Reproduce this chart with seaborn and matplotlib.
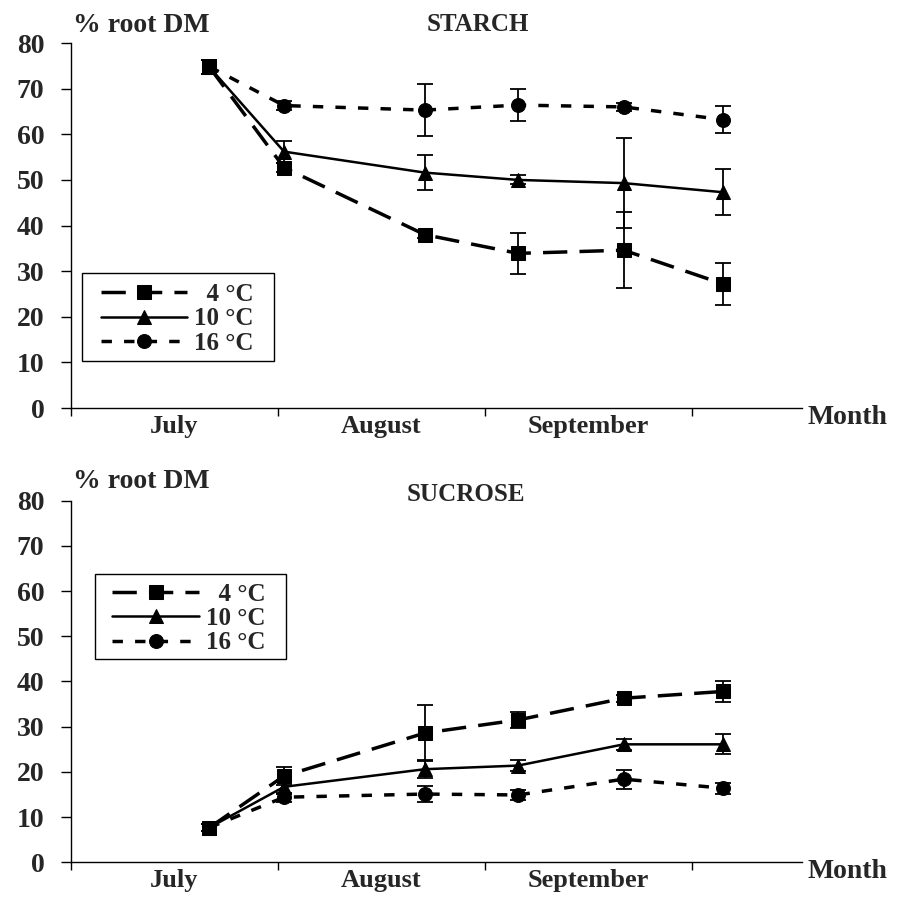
import matplotlib
matplotlib.use("Agg")
import matplotlib.pyplot as plt
from matplotlib.patches import Rectangle
import pandas as pd
import seaborn as sns

# sampling dates, in months after 1 July
months_x = [0.67, 1.03, 1.71, 2.16, 2.67, 3.15]
temps = ["4 °C", "10 °C", "16 °C"]

starch_4 = [74.7, 52.7, 38.0, 33.9, 34.6, 27.2]
starch_4_err = [1.5, 1.0, 0.8, 4.5, 8.3, 4.6]
starch_10 = [74.7, 56.2, 51.6, 50.0, 49.3, 47.3]
starch_10_err = [1.5, 2.4, 3.8, 1.0, 9.8, 5.0]
starch_16 = [74.8, 66.3, 65.3, 66.4, 66.0, 63.2]
starch_16_err = [1.5, 1.0, 5.7, 3.5, 0.8, 2.9]

sucrose_4 = [7.7, 19.1, 28.6, 31.5, 36.3, 37.8]
sucrose_4_err = [0.8, 2.0, 6.2, 1.8, 0.8, 2.3]
sucrose_10 = [7.7, 16.7, 20.6, 21.4, 26.1, 26.1]
sucrose_10_err = [0.8, 1.5, 2.0, 1.3, 1.2, 2.2]
sucrose_16 = [7.7, 14.4, 15.1, 14.9, 18.4, 16.4]
sucrose_16_err = [0.8, 1.0, 1.8, 1.2, 2.1, 1.2]

month_names = ["July", "August", "September"]

STYLES = {
    "4 °C": dict(marker="s", linestyle=(0, (7, 3.5)), linewidth=2.5),
    "10 °C": dict(marker="^", linestyle="-", linewidth=1.8),
    "16 °C": dict(marker="o", linestyle=(0, (3, 3.5)), linewidth=2.5),
}

sns.set_theme(style="white")
plt.rcParams["font.family"] = ["Liberation Serif", "DejaVu Serif"]
plt.rcParams["font.weight"] = "bold"


def draw_panel(ax, series, errors, title, title_pos, root_y, box, legend_anchor):
    handles = []
    for temp, vals, errs in zip(temps, series, errors):
        df = pd.DataFrame({"x": months_x, "y": vals})
        st = STYLES[temp]
        ax.errorbar(months_x, vals, yerr=errs, fmt="none", ecolor="black",
                    elinewidth=1.3, capsize=6, capthick=1.3, zorder=2)
        sns.lineplot(data=df, x="x", y="y", ax=ax, color="black",
                     marker=st["marker"], markersize=10, markeredgecolor="black",
                     linestyle=st["linestyle"], linewidth=st["linewidth"],
                     zorder=3)
        handles.append(ax.lines[-1])

    ax.set_xlim(0, 3.53)
    ax.set_ylim(0, 80)
    ax.set_yticks(range(0, 81, 10))
    ax.set_xticks([0, 1, 2, 3])
    ax.set_xticklabels([])
    ax.set_xticks([0.5, 1.5, 2.5], minor=True)
    ax.set_xticklabels(month_names, minor=True, fontsize=19, fontweight="bold")
    ax.tick_params(axis="x", which="minor", length=0, pad=5)
    ax.tick_params(axis="x", which="major", direction="out", length=6,
                   width=1, color="black", bottom=True)
    ax.tick_params(axis="y", direction="out", length=7, width=1,
                   color="black", left=True, labelsize=20, pad=12)
    for lab in ax.get_yticklabels():
        lab.set_fontweight("bold")
    sns.despine(ax=ax)
    for sp in ["left", "bottom"]:
        ax.spines[sp].set_color("black")
        ax.spines[sp].set_linewidth(1)
    ax.set_xlabel("")
    ax.set_ylabel("")

    ax.text(0.003, root_y, "% root DM", transform=ax.transAxes, fontsize=20,
            fontweight="bold", ha="left", va="baseline")
    ax.text(title_pos[0], title_pos[1], title, transform=ax.transAxes,
            fontsize=18, fontweight="bold", ha="center", va="baseline")
    ax.text(1.008, 0.008, "Month", transform=ax.transAxes, fontsize=20,
            fontweight="bold", ha="left", va="top")

    # legend box drawn separately so the padding matches the original
    ax.add_patch(Rectangle((box[0], box[1]), box[2], box[3],
                           transform=ax.transAxes, facecolor="white",
                           edgecolor="black", linewidth=1, zorder=4))
    leg = ax.legend(handles, ["  4 °C", "10 °C", "16 °C"], loc="upper left",
                    bbox_to_anchor=legend_anchor, borderaxespad=0,
                    frameon=False, handlelength=3.45, handletextpad=0.28,
                    labelspacing=0.05, borderpad=0,
                    prop={"size": 18, "weight": "bold"})
    leg.set_zorder(5)


fig = plt.figure(figsize=(9.07, 9.10), dpi=100)
ax_top = fig.add_axes([0.078, 0.5516, 0.806, 0.4011])
ax_bot = fig.add_axes([0.078, 0.0524, 0.806, 0.3974])

draw_panel(ax_top, [starch_4, starch_10, starch_16],
           [starch_4_err, starch_10_err, starch_16_err], "STARCH",
           (0.557, 1.033), 1.030, (0.015, 0.129, 0.263, 0.241), (0.041, 0.342))
draw_panel(ax_bot, [sucrose_4, sucrose_10, sucrose_16],
           [sucrose_4_err, sucrose_10_err, sucrose_16_err], "SUCROSE",
           (0.54, 1.0), 1.035, (0.033, 0.562, 0.261, 0.235), (0.057, 0.773))

fig.savefig("out.png", dpi=100, facecolor="white")
